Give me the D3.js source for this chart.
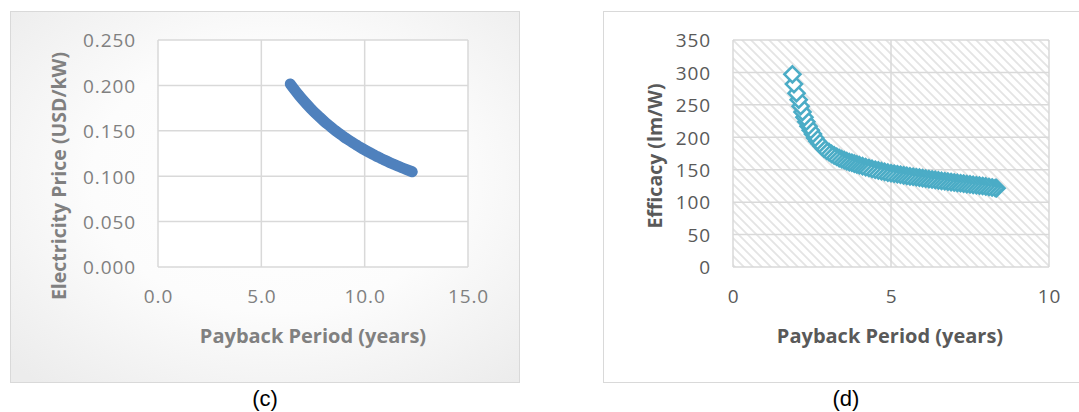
<!DOCTYPE html>
<html>
<head>
<meta charset="utf-8">
<script src="https://cdn.jsdelivr.net/npm/d3@7"></script>
<style>
  body { margin: 0; background: #ffffff; }
  svg { display: block; }
  .tick text { font-family: "Open Sans", sans-serif; }
</style>
</head>
<body>
<svg id="fig" width="1079" height="412"></svg>
<script>
// Panel (c): electricity price needed for a given payback period
const pricePayback = [6.4, 6.6, 6.8, 7.0, 7.2, 7.4, 7.6, 7.8, 8.0, 8.2, 8.4, 8.6, 8.8, 9.0, 9.2,
  9.4, 9.6, 9.8, 10.0, 10.2, 10.4, 10.6, 10.8, 11.0, 11.2, 11.4, 11.6, 11.8, 12.0, 12.3];
const priceValues = [0.2016, 0.1955, 0.1897, 0.1843, 0.1792, 0.1743, 0.1697, 0.1654, 0.1613,
  0.1573, 0.1536, 0.1500, 0.1466, 0.1433, 0.1402, 0.1372, 0.1344, 0.1316, 0.1290, 0.1265,
  0.1240, 0.1217, 0.1194, 0.1173, 0.1152, 0.1132, 0.1112, 0.1093, 0.1075, 0.1049];
const priceXTicks = [0, 5, 10, 15];
const priceYTicks = [0, 0.05, 0.10, 0.15, 0.20, 0.25];

// Panel (d): luminous efficacy needed for a given payback period
const effPayback = [1.88, 1.93, 2.01, 2.08, 2.14, 2.20, 2.26, 2.32, 2.39, 2.46, 2.53, 2.60, 2.67,
  2.74, 2.81, 2.88, 2.96, 3.04, 3.12, 3.20, 3.28, 3.36, 3.44, 3.52, 3.60, 3.68, 3.76, 3.84, 3.92,
  4.00, 4.10, 4.20, 4.30, 4.40, 4.50, 4.60, 4.70, 4.80, 4.90, 5.00, 5.10, 5.20, 5.30, 5.40, 5.50,
  5.60, 5.70, 5.80, 5.90, 6.00, 6.10, 6.20, 6.30, 6.40, 6.50, 6.60, 6.70, 6.80, 6.90, 7.00, 7.10,
  7.20, 7.30, 7.40, 7.50, 7.60, 7.70, 7.80, 7.90, 8.00, 8.10, 8.20, 8.30, 8.34];
const effValues = [297, 282, 268, 258, 248, 239, 231, 224, 217, 211, 205, 199, 194,
  190, 186, 182.5, 179.5, 177, 174.5, 172, 170, 168, 166.3, 164.7, 163.2, 161.8, 160.7, 159.5, 158.2,
  157, 155.5, 154, 152.6, 151.3, 150, 148.9, 147.8, 146.7, 145.6, 144.6, 143.8, 143, 142.2, 141.4, 140.6,
  139.8, 139.1, 138.4, 137.7, 137, 136.3, 135.6, 134.9, 134.2, 133.5, 132.8, 132.2, 131.6, 131, 130.3, 129.7,
  129.1, 128.5, 127.9, 127.3, 126.7, 126.1, 125.5, 124.9, 124.2, 123.4, 122.6, 121.8, 121.5];
const effXTicks = [0, 5, 10];
const effYTicks = [0, 50, 100, 150, 200, 250, 300, 350];

const svg = d3.select("#fig");
const defs = svg.append("defs");

// soft radial shading behind panel (c)
const rg = defs.append("radialGradient").attr("id", "panelShade")
  .attr("cx", "52%").attr("cy", "45%").attr("r", "72%");
rg.append("stop").attr("offset", "0%").attr("stop-color", "#ffffff");
rg.append("stop").attr("offset", "50%").attr("stop-color", "#fcfcfc");
rg.append("stop").attr("offset", "100%").attr("stop-color", "#ececec");

// light diagonal hatching behind the plot area of panel (d)
const hatch = defs.append("pattern").attr("id", "hatch")
  .attr("patternUnits", "userSpaceOnUse").attr("width", 9).attr("height", 9);
hatch.append("rect").attr("width", 9).attr("height", 9).attr("fill", "#ffffff");
hatch.append("path").attr("d", "M-1,-1 L10,10 M-1,8 L1,10 M8,-1 L10,1")
  .attr("stroke", "#e4e4e4").attr("stroke-width", 1.8);

const gridColor = "#d9d9d9";

function panel(opt) {
  const g = svg.append("g");
  // outer frame
  g.append("rect")
    .attr("x", opt.frame[0] + 0.5).attr("y", opt.frame[1] + 0.5)
    .attr("width", opt.frame[2]).attr("height", opt.frame[3])
    .attr("fill", opt.frameFill).attr("stroke", "#d9d9d9").attr("stroke-width", 1);

  const x = d3.scaleLinear().domain(opt.xDomain).range(opt.xRange);
  const y = d3.scaleLinear().domain(opt.yDomain).range(opt.yRange);

  g.append("rect")
    .attr("x", opt.xRange[0]).attr("y", opt.yRange[1])
    .attr("width", opt.xRange[1] - opt.xRange[0]).attr("height", opt.yRange[0] - opt.yRange[1])
    .attr("fill", opt.plotFill);

  // gridlines
  g.append("g").selectAll("line").data(opt.yTicks).join("line")
    .attr("x1", opt.xRange[0]).attr("x2", opt.xRange[1])
    .attr("y1", d => y(d)).attr("y2", d => y(d))
    .attr("stroke", gridColor).attr("stroke-width", 1.5);
  g.append("g").selectAll("line").data(opt.xTicks).join("line")
    .attr("y1", opt.yRange[0]).attr("y2", opt.yRange[1])
    .attr("x1", d => x(d)).attr("x2", d => x(d))
    .attr("stroke", gridColor).attr("stroke-width", 1.5);

  // tick labels
  const ya = g.append("g").attr("transform", `translate(${opt.xRange[0] - 22},0)`)
    .call(d3.axisLeft(y).tickValues(opt.yTicks).tickFormat(opt.yFormat).tickSize(0).tickPadding(0));
  const xa = g.append("g").attr("transform", `translate(0,${opt.yRange[0] + 22})`)
    .call(d3.axisBottom(x).tickValues(opt.xTicks).tickFormat(opt.xFormat).tickSize(0).tickPadding(0));
  [ya, xa].forEach(a => {
    a.select(".domain").remove();
    a.selectAll("text").attr("font-size", 19).attr("fill", opt.textColor)
      .attr("letter-spacing", "0.9px");
  });
  ya.selectAll("text").attr("dy", "0.36em");
  xa.selectAll("text").attr("dy", "0.75em");

  // axis titles
  g.append("text")
    .attr("x", opt.xTitlePos[0]).attr("y", opt.xTitlePos[1])
    .attr("text-anchor", "middle").attr("dy", "0.35em")
    .attr("font-family", "Open Sans, sans-serif").attr("font-weight", 700)
    .attr("font-size", 20).attr("fill", opt.textColor)
    .text(opt.xTitle);
  g.append("text")
    .attr("transform", `translate(${opt.yTitlePos[0]},${opt.yTitlePos[1]}) rotate(-90)`)
    .attr("text-anchor", "middle").attr("dy", "0.35em")
    .attr("font-family", "Open Sans, sans-serif").attr("font-weight", 700)
    .attr("font-size", 19.5).attr("fill", opt.textColor)
    .text(opt.yTitle);

  // caption under the frame
  svg.append("text")
    .attr("x", opt.caption[1]).attr("y", 398)
    .attr("text-anchor", "middle").attr("dy", "0.35em")
    .attr("font-family", "Liberation Sans, Arial, sans-serif")
    .attr("font-size", 22).attr("fill", "#000000")
    .text(opt.caption[0]);

  return { g, x, y };
}

// ---- panel (c)
const c = panel({
  frame: [10, 11, 509, 371], frameFill: "url(#panelShade)", plotFill: "#ffffff",
  xDomain: [0, 15], xRange: [158, 468], yDomain: [0, 0.25], yRange: [267, 40],
  xTicks: priceXTicks, yTicks: priceYTicks,
  xFormat: d3.format(".1f"), yFormat: d3.format(".3f"),
  textColor: "#808080",
  xTitle: "Payback Period (years)", xTitlePos: [313, 336],
  yTitle: "Electricity Price (USD/kW)", yTitlePos: [59, 176],
  caption: ["(c)", 265]
});
const pricePts = pricePayback.map((p, i) => [p, priceValues[i]]);
c.g.append("g").selectAll("circle").data(pricePts).join("circle")
  .attr("cx", d => c.x(d[0])).attr("cy", d => c.y(d[1])).attr("r", 5)
  .attr("fill", "#4f81bd");
c.g.append("path")
  .datum(pricePts)
  .attr("d", d3.line().x(d => c.x(d[0])).y(d => c.y(d[1])).curve(d3.curveNatural))
  .attr("fill", "none").attr("stroke", "#4f81bd").attr("stroke-width", 11)
  .attr("stroke-linecap", "round").attr("stroke-linejoin", "round");

// ---- panel (d)
const dP = panel({
  frame: [603, 11, 480, 371], frameFill: "#ffffff", plotFill: "url(#hatch)",
  xDomain: [0, 10], xRange: [733, 1049], yDomain: [0, 350], yRange: [267, 40],
  xTicks: effXTicks, yTicks: effYTicks,
  xFormat: d3.format("d"), yFormat: d3.format("d"),
  textColor: "#595959",
  xTitle: "Payback Period (years)", xTitlePos: [890, 336],
  yTitle: "Efficacy (lm/W)", yTitlePos: [655, 156],
  caption: ["(d)", 846]
});
const effPts = effPayback.map((p, i) => [p, effValues[i]]).reverse();
const r = 8;
dP.g.append("g").selectAll("path").data(effPts).join("path")
  .attr("transform", d => `translate(${dP.x(d[0])},${dP.y(d[1])})`)
  .attr("d", `M0,${-r}L${r},0L0,${r}L${-r},0Z`)
  .attr("fill", "#ffffff").attr("stroke", "#4bacc6").attr("stroke-width", 2.6)
  .attr("stroke-linejoin", "miter");
</script>
</body>
</html>
